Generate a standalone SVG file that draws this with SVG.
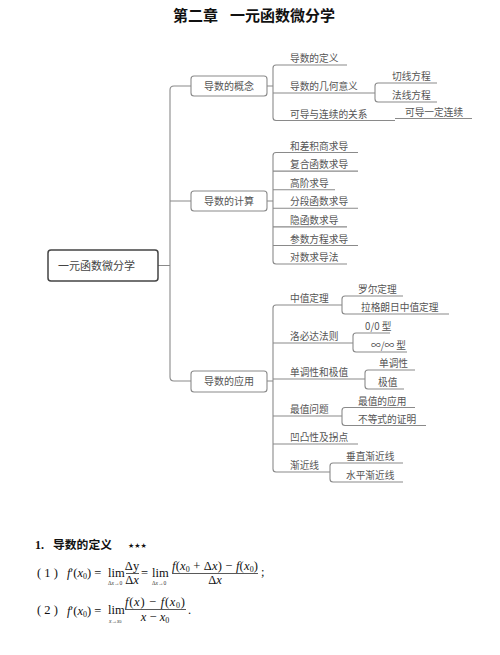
<svg xmlns="http://www.w3.org/2000/svg" width="500" height="655" viewBox="0 0 500 655">
<style>
.ln{fill:none;stroke:#8a8a8a;stroke-width:1.1}
.t{font-family:"Noto Sans CJK SC","Noto Sans",sans-serif;font-size:9.7px;fill:#555}
.b1{fill:#fff;stroke:#8a8a8a;stroke-width:1.1}
.t1{font-family:"Noto Sans CJK SC","Noto Sans",sans-serif;font-size:10px;fill:#555;text-anchor:middle}
.m{font-family:"Liberation Serif",serif;font-size:12.5px;fill:#111}
.i{font-style:italic}
.s{font-size:8px}
.ss{font-family:"Liberation Serif",serif;font-size:5.5px;fill:#333}
</style>
<rect width="500" height="655" fill="#fff"/>
<text x="173" y="21" font-family="'Noto Sans CJK SC',sans-serif" font-size="15" font-weight="bold" fill="#111">第二章</text>
<text x="230" y="21" font-family="'Noto Sans CJK SC',sans-serif" font-size="15" font-weight="bold" fill="#111">一元函数微分学</text>

<g id="connectors">
<path class="ln" d="M158 265.5H170M191 86H174Q170 86 170 90V377Q170 381 174 381H191M170 201H191"/>
<path class="ln" d="M267 86H273M347 65H276Q273 65 273 68V117.5Q273 120.5 276 120.5H395M273 93H375M437 83H378Q375 83 375 86V99Q375 102 378 102H437M395 118.5H472"/>
<path class="ln" d="M267 201H273M358 152.5H276Q273 152.5 273 155.5V261Q273 264 276 264H347M273 171.1H358M273 189.7H335M273 208.3H358M273 226.9H347M273 245.5H358"/>
<path class="ln" d="M267 381H273M342 305H276Q273 305 273 308V469Q273 472 276 472H330M273 343H353M273 379H365M273 416H342M273 444H358"/>
<path class="ln" d="M403 296H345Q342 296 342 299V311Q342 314 345 314H449"/>
<path class="ln" d="M390 333H356Q353 333 353 336V349Q353 352 356 352H407"/>
<path class="ln" d="M415 370H368Q365 370 365 373V386Q365 389 368 389H404"/>
<path class="ln" d="M415 407.5H345Q342 407.5 342 410.5V422.5Q342 425.5 345 425.5H426"/>
<path class="ln" d="M403 463H333Q330 463 330 466V479Q330 482 333 482H403"/>
</g>

<g id="root">
<rect x="48" y="250" width="110" height="31" rx="3" fill="#fff" stroke="#444" stroke-width="1.5"/>
<text x="58" y="270" font-family="'Noto Sans CJK SC',sans-serif" font-size="11" fill="#444">一元函数微分学</text>
</g>

<g id="n-concept">
<rect class="b1" x="191" y="76" width="76" height="20" rx="3"/>
<text class="t1" x="229" y="90">导数的概念</text>
</g>
<g id="n-calc">
<rect class="b1" x="191" y="191" width="76" height="20" rx="3"/>
<text class="t1" x="229" y="205">导数的计算</text>
</g>
<g id="n-apply">
<rect class="b1" x="191" y="371" width="76" height="21" rx="3"/>
<text class="t1" x="229" y="385">导数的应用</text>
</g>

<g id="concept-items">
<text class="t" x="290" y="62">导数的定义</text>
<text class="t" x="290" y="90">导数的几何意义</text>
<text class="t" x="290" y="117.5">可导与连续的关系</text>
<text class="t" x="392" y="80">切线方程</text>
<text class="t" x="392" y="99">法线方程</text>
<text class="t" x="405" y="115.5">可导一定连续</text>
</g>

<g id="calc-items">
<text class="t" x="290" y="149.5">和差积商求导</text>
<text class="t" x="290" y="168.1">复合函数求导</text>
<text class="t" x="290" y="186.7">高阶求导</text>
<text class="t" x="290" y="205.3">分段函数求导</text>
<text class="t" x="290" y="223.9">隐函数求导</text>
<text class="t" x="290" y="242.5">参数方程求导</text>
<text class="t" x="290" y="261">对数求导法</text>
</g>

<g id="apply-items">
<text class="t" x="290" y="302">中值定理</text>
<text class="t" x="358" y="293">罗尔定理</text>
<text class="t" x="361" y="311">拉格朗日中值定理</text>
<text class="t" x="290" y="340">洛必达法则</text>
<text class="t" x="365" y="330">0/0 型</text>
<text class="t" x="371" y="349">∞/∞ 型</text>
<text class="t" x="290" y="376">单调性和极值</text>
<text class="t" x="379" y="367">单调性</text>
<text class="t" x="378" y="386">极值</text>
<text class="t" x="290" y="413">最值问题</text>
<text class="t" x="358" y="404.5">最值的应用</text>
<text class="t" x="358" y="422.5">不等式的证明</text>
<text class="t" x="290" y="441">凹凸性及拐点</text>
<text class="t" x="290" y="469">渐近线</text>
<text class="t" x="346" y="460">垂直渐近线</text>
<text class="t" x="346" y="479">水平渐近线</text>
</g>

<g id="definition">
<text x="35" y="549" font-family="'Liberation Serif',serif" font-size="12" font-weight="bold" fill="#111">1.</text>
<text x="53" y="549" font-family="'Noto Sans CJK SC',sans-serif" font-size="11.8" font-weight="bold" fill="#111">导数的定义</text>
<text x="128" y="548" font-family="'DejaVu Sans',sans-serif" font-size="7" font-weight="bold" fill="#111">★★★</text>

<text class="m" x="37" y="577" font-size="11">( 1 )</text>
<text class="m" x="67" y="577"><tspan class="i">f</tspan>′(<tspan class="i">x</tspan><tspan class="s" dy="2">0</tspan><tspan dy="-2">) =</tspan></text>
<text class="m" x="108" y="577">lim</text>
<text class="ss" x="108" y="585">Δ<tspan font-style="italic">x</tspan>→0</text>
<text class="m" x="132" y="570" text-anchor="middle">Δy</text>
<line x1="126" y1="573.5" x2="139" y2="573.5" stroke="#111" stroke-width="0.7"/>
<text class="m" x="132" y="584" text-anchor="middle">Δ<tspan class="i">x</tspan></text>
<text class="m" x="141" y="577">=</text>
<text class="m" x="152" y="577">lim</text>
<text class="ss" x="152" y="585">Δ<tspan font-style="italic">x</tspan>→0</text>
<text class="m" x="172" y="570" textLength="86" lengthAdjust="spacing"><tspan class="i">f</tspan>(<tspan class="i">x</tspan><tspan class="s" dy="2">0</tspan><tspan dy="-2"> + Δ</tspan><tspan class="i">x</tspan>) − <tspan class="i">f</tspan>(<tspan class="i">x</tspan><tspan class="s" dy="2">0</tspan><tspan dy="-2">)</tspan></text>
<line x1="172" y1="573.5" x2="258" y2="573.5" stroke="#111" stroke-width="0.7"/>
<text class="m" x="215" y="584" text-anchor="middle">Δ<tspan class="i">x</tspan></text>
<text class="m" x="261" y="576">;</text>

<text class="m" x="37" y="614" font-size="11">( 2 )</text>
<text class="m" x="67" y="615"><tspan class="i">f</tspan>′(<tspan class="i">x</tspan><tspan class="s" dy="2">0</tspan><tspan dy="-2">) =</tspan></text>
<text class="m" x="108" y="614">lim</text>
<text class="ss" x="109" y="622.5"><tspan font-style="italic">x</tspan>→<tspan font-style="italic">x</tspan><tspan font-size="4">0</tspan></text>
<text class="m" x="125" y="605.5" textLength="60" lengthAdjust="spacing"><tspan class="i">f</tspan>(<tspan class="i">x</tspan>) − <tspan class="i">f</tspan>(<tspan class="i">x</tspan><tspan class="s" dy="2">0</tspan><tspan dy="-2">)</tspan></text>
<line x1="125" y1="609.5" x2="186" y2="609.5" stroke="#111" stroke-width="0.7"/>
<text class="m" x="155" y="621" text-anchor="middle"><tspan class="i">x</tspan> − <tspan class="i">x</tspan><tspan class="s" dy="2">0</tspan></text>
<text class="m" x="188" y="614">.</text>
</g>
</svg>
